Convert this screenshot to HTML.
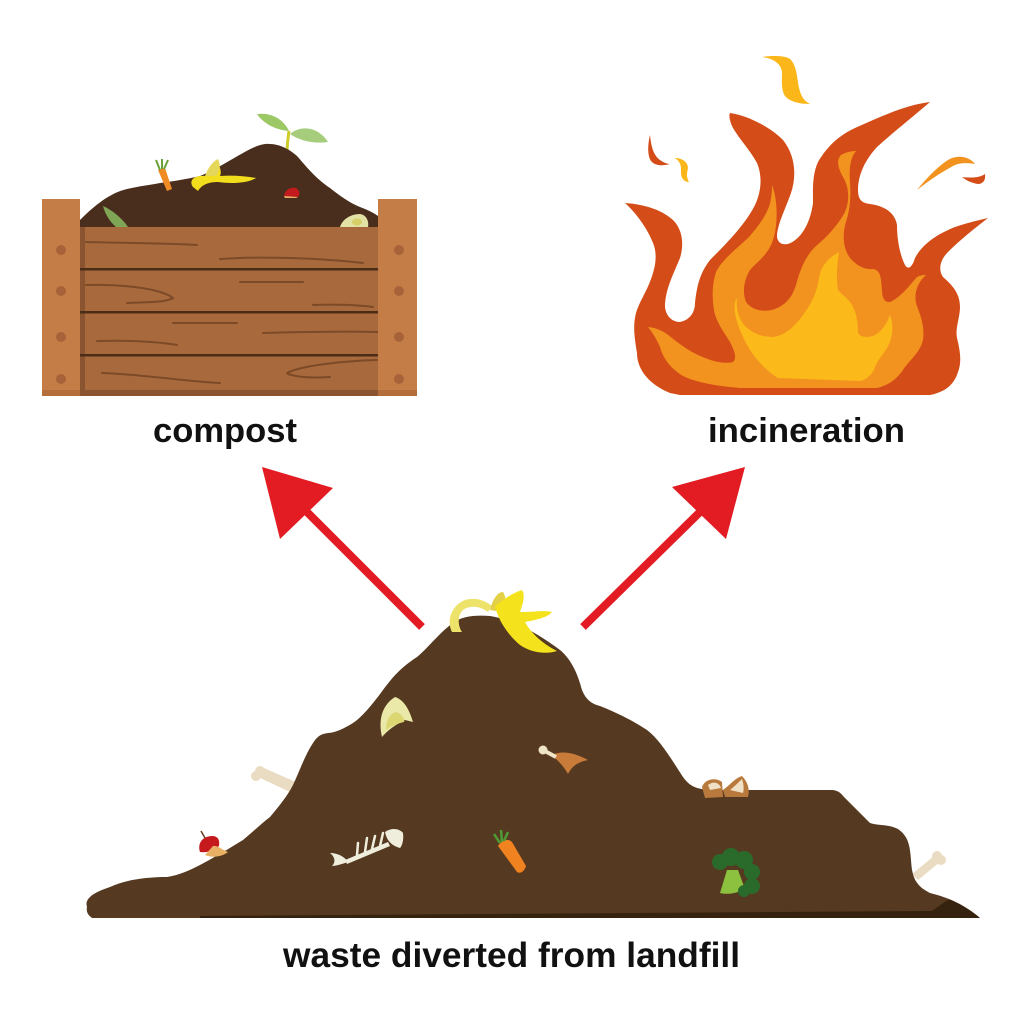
<!DOCTYPE html>
<html>
<head>
<meta charset="utf-8">
<style>
html,body{margin:0;padding:0;background:#fff;}
svg{display:block;}
text{font-family:"Liberation Sans",Arial,sans-serif;font-weight:bold;fill:#111;}
</style>
</head>
<body>
<svg width="1024" height="1024" viewBox="0 0 1024 1024" xmlns="http://www.w3.org/2000/svg">
<rect width="1024" height="1024" fill="#fff"/>

<!-- ========== COMPOST BOX ========== -->
<!-- sprout -->
<path d="M287,153 C287,145 288,138 289,131" stroke="#cfcc2a" stroke-width="3" fill="none"/>
<path d="M289,131 C284,120 272,112 257,114 C262,122 274,130 289,131 Z" fill="#9cc865"/>
<path d="M290,134 C300,125 318,126 328,142 C314,144 300,141 290,134 Z" fill="#a6cd7c"/>
<!-- mound -->
<path d="M80,227 L80,220 C95,205 110,193 127,189 C140,186 150,185 160,183 C175,181 187,179 200,176 C215,170 230,160 243,153 C252,148 258,145 265,144 C280,143 290,150 297,156 C305,165 315,178 330,188 C340,196 350,203 360,207 C368,210 374,213 378,216 L378,227 Z" fill="#4a2e1d"/>
<!-- compost items -->
<path d="M103,206 C112,210 122,218 128,227 L116,227 C110,222 105,214 103,206 Z" fill="#7ea654"/>
<path d="M340,227 C342,220 350,214 360,214 C367,215 369,222 368,227 Z" fill="#e3e2a6"/>
<ellipse cx="357" cy="222" rx="5" ry="3.5" fill="#d5cf66"/>
<path d="M158,170 L165,168 L172,189 L167,191 Z" fill="#f08a24"/>
<path d="M160,170 L156,160 M162,169 L162,159 M164,169 L168,160" stroke="#6aa23a" stroke-width="2"/>
<path d="M193,187 C188,180 195,175 205,176 C210,172 214,165 216,160 C220,166 222,172 220,176 C232,175 245,176 256,178 C248,183 232,184 218,182 C210,182 202,184 198,191 Z" fill="#f2de1c"/>
<path d="M205,176 C208,168 212,162 218,159 C221,164 220,171 216,176 Z" fill="#e5d75a"/>
<path d="M284,196 C285,190 290,187 296,188 C300,190 300,195 298,197 Z" fill="#c21b1e"/>
<path d="M284,196 L298,197 L296,198 L285,198 Z" fill="#e8b065"/>

<!-- middle panel -->
<rect x="80" y="227" width="298" height="169" fill="#a86a3d"/>
<rect x="80" y="227" width="5" height="169" fill="#8a5430"/>
<rect x="80" y="390" width="298" height="6" fill="#8a5430"/>
<!-- plank lines -->
<rect x="80" y="268" width="298" height="2.5" fill="#4a2c17"/>
<rect x="80" y="311" width="298" height="2.5" fill="#4a2c17"/>
<rect x="80" y="354" width="298" height="2.5" fill="#4a2c17"/>
<!-- grain -->
<g stroke="#7d4a27" stroke-width="2" fill="none" stroke-linecap="round">
<path d="M86,242 C120,243 170,243 197,245"/>
<path d="M220,259 C260,256 320,258 363,263"/>
<path d="M86,285 C120,284 160,288 173,298 C165,303 145,302 127,303"/>
<path d="M240,282 L303,282"/>
<path d="M313,305 C335,304 360,305 373,307"/>
<path d="M173,323 L237,323"/>
<path d="M263,333 C300,332 340,331 378,332"/>
<path d="M97,341 C130,340 160,342 177,345"/>
<path d="M102,373 C140,374 190,382 220,383"/>
<path d="M287,373 C300,366 340,361 377,360 M288,374 C300,378 315,378 330,377"/>
</g>
<!-- posts -->
<rect x="42" y="199" width="38" height="197" fill="#c57d47"/>
<rect x="378" y="199" width="39" height="197" fill="#c57d47"/>
<rect x="42" y="390" width="38" height="6" fill="#b46e3c"/>
<rect x="378" y="390" width="39" height="6" fill="#b46e3c"/>
<g fill="#a8623a">
<circle cx="61" cy="250" r="5"/><circle cx="61" cy="291" r="5"/><circle cx="61" cy="337" r="5"/><circle cx="61" cy="379" r="5"/>
<circle cx="399" cy="250" r="5"/><circle cx="399" cy="291" r="5"/><circle cx="399" cy="337" r="5"/><circle cx="399" cy="379" r="5"/>
</g>

<!-- ========== FIRE ========== -->
<path d="M670,393 C650,385 637,370 637,353 C634,335 633,325 636,313 C640,300 648,290 653,273 C657,260 656,250 653,243 C648,230 638,215 625,203 C640,204 660,208 673,220 C683,230 684,245 680,258 C673,275 665,290 665,307 C666,316 672,322 680,322 C690,320 695,312 695,303 C697,285 700,273 710,260 C725,245 745,225 755,205 C762,190 762,175 757,163 C750,150 740,140 733,128 C729,120 729,115 730,113 C745,115 768,125 783,140 C795,155 797,175 791,193 C785,210 777,225 777,237 C778,243 782,245 788,244 C800,240 810,225 813,203 C813,190 812,175 818,162 C828,145 840,135 855,128 C880,117 905,105 930,102 C915,115 890,135 877,147 C865,160 858,175 858,190 C858,200 862,203 870,204 C885,206 895,213 897,225 C897,240 900,255 905,265 C908,270 912,268 915,258 C922,245 935,235 955,227 C970,222 980,220 988,218 C975,228 960,240 948,252 C940,260 938,270 943,277 C952,285 960,293 960,307 C960,318 955,328 957,338 C960,350 962,362 958,372 C954,385 945,392 930,395 L680,395 Z" fill="#d44c17"/>
<path d="M648,327 C658,328 665,332 672,338 C682,346 692,353 705,358 C715,362 725,364 733,362 C737,358 735,352 730,342 C724,332 716,322 714,310 C712,298 712,285 716,272 C722,260 735,250 748,238 C760,225 770,210 771,198 C772,193 772,188 772,185 C778,200 778,225 773,240 C768,255 757,262 750,270 C744,280 742,292 746,302 C752,310 762,312 772,310 C785,306 792,298 796,285 C800,270 805,257 815,247 C827,237 838,225 845,212 C850,200 849,187 843,177 C838,168 836,160 841,155 C846,152 852,151 856,151 C850,158 849,170 850,182 C851,196 850,210 846,222 C842,235 843,248 850,258 C857,266 865,270 873,269 C880,270 881,276 882,290 C882,298 885,303 890,302 C900,298 910,285 917,277 C921,275 924,275 926,275 C918,282 914,292 916,303 C920,315 925,325 923,340 C920,352 912,358 905,367 C898,378 890,385 877,388 L740,388 C715,386 695,382 683,376 C670,368 663,358 660,347 C656,338 652,332 648,327 Z" fill="#f3931f"/>
<path d="M737,298 C736,308 738,318 745,326 C752,333 762,337 772,337 C785,336 795,326 803,315 C812,303 817,292 819,278 C821,266 828,258 839,252 C837,265 836,278 838,290 C842,295 848,298 852,305 C857,313 858,325 858,333 C860,337 866,338 873,336 C882,332 887,323 890,315 C894,325 893,338 887,348 C882,356 876,362 874,370 C870,376 866,380 860,381 L778,378 C768,372 758,362 750,350 C743,338 737,325 735,313 C734,305 735,300 737,298 Z" fill="#fbb91a"/>
<!-- sparks -->
<path d="M762,57 C775,55 788,56 791,60 C797,67 797,78 799,88 C801,96 804,101 810,104 C800,104 790,102 785,96 C781,90 782,80 782,72 C781,63 772,58 762,57 Z" fill="#fbb719"/>
<path d="M650,135 C651,145 653,155 660,160 C664,163 668,164 670,164 C663,166 655,166 651,161 C647,155 648,143 650,135 Z" fill="#d44c17"/>
<path d="M675,158 C682,158 688,162 688,168 C687,173 686,177 689,182 C684,182 681,178 681,173 C681,168 682,163 675,158 Z" fill="#fbb719"/>
<path d="M917,190 C925,180 937,167 948,160 C958,154 970,157 975,164 C970,163 960,162 953,166 C940,173 927,182 917,190 Z" fill="#f3931f"/>
<path d="M962,177 C970,178 980,178 985,174 C986,180 983,184 978,184 C972,183 967,181 962,177 Z" fill="#d44c17"/>

<!-- ========== LABELS ========== -->
<text x="153" y="442" font-size="34" textLength="144" lengthAdjust="spacingAndGlyphs">compost</text>
<text x="708" y="442" font-size="34" textLength="197" lengthAdjust="spacingAndGlyphs">incineration</text>
<text x="283" y="967" font-size="35" textLength="457" lengthAdjust="spacingAndGlyphs">waste diverted from landfill</text>

<!-- ========== ARROWS ========== -->
<line x1="422" y1="627" x2="305" y2="510" stroke="#e31b23" stroke-width="8"/>
<polygon points="262,467 333,488 280,539" fill="#e31b23"/>
<line x1="583" y1="627" x2="701" y2="511" stroke="#e31b23" stroke-width="8"/>
<polygon points="745,467 672,487 726,539" fill="#e31b23"/>

<!-- ========== PILE ========== -->
<!-- bones behind -->
<g fill="#eadcc2">
<path d="M258,777 L290,792 L296,782 L264,768 Z"/>
<circle cx="256" cy="776" r="5"/><circle cx="260" cy="771" r="5"/>
<path d="M918,880 L940,862 L934,856 L912,874 Z"/>
<circle cx="941" cy="860" r="5"/><circle cx="937" cy="856" r="5"/>
</g>
<path d="M87,907 C84,898 95,892 110,887 C125,880 145,877 167,877 C180,875 190,870 200,865 C215,857 230,848 243,840 C255,830 262,823 270,817 C280,805 288,795 293,785 C300,770 305,755 313,743 C317,737 320,734 328,733 C335,733 345,728 353,723 C362,717 372,705 383,690 C392,678 400,668 417,657 C428,648 440,632 453,623 C462,616 475,615 490,616 C515,620 540,635 560,650 C572,660 578,675 582,690 C586,700 592,704 600,706 C615,712 632,720 647,730 C660,740 670,757 683,777 C690,787 698,790 715,790 L833,790 C840,791 842,795 845,798 L870,823 C880,826 888,824 898,829 C908,836 910,845 911,860 C912,875 914,885 930,893 C950,898 965,905 980,918 L92,918 C88,915 86,912 87,907 Z" fill="#553920"/>
<path d="M200,916 L932,911 C942,904 946,900 950,900 C962,905 972,911 980,918 L200,918 Z" fill="#35220f"/>

<!-- banana on top -->
<path d="M452,632 C446,620 452,605 465,600 C475,597 485,600 492,606 L488,612 C480,606 470,605 463,610 C457,616 458,626 462,632 Z" fill="#eee36a"/>
<path d="M490,610 C493,598 498,592 503,592 C507,598 506,606 502,612 Z" fill="#e2d048"/>
<path d="M495,606 C505,598 515,592 522,590 C526,596 522,606 520,612 C535,612 545,610 552,612 C547,618 535,620 525,622 C532,635 545,645 557,651 C545,655 530,652 520,645 C508,635 498,620 495,606 Z" fill="#f4e21c"/>

<!-- avocado wedge -->
<path d="M382,737 C378,720 382,705 395,697 C405,700 410,712 413,722 L405,720 C395,725 388,730 382,737 Z" fill="#ebe9a9"/>
<path d="M386,730 C386,720 390,713 397,712 C403,715 405,720 404,722 C396,724 390,727 386,730 Z" fill="#dcd772"/>
<!-- apple core -->
<path d="M200,852 C197,843 203,836 212,836 C218,836 220,840 219,846 C214,850 208,853 200,852 Z" fill="#c5191d"/>
<path d="M213,846 C218,845 222,850 228,852 C222,857 212,858 205,855 Z" fill="#e8b065"/>
<path d="M205,838 L201,831" stroke="#6a3e20" stroke-width="1.5"/>
<!-- fish bone -->
<g fill="#efeedd">
<path d="M385,832 C392,827 400,829 403,833 C404,840 402,846 400,848 C393,846 387,842 385,832 Z"/>
<path d="M345,860 L388,842 L390,846 L347,864 Z"/>
<path d="M330,853 C338,853 345,857 348,862 C342,864 336,866 332,866 C336,862 335,857 330,853 Z"/>
</g>
<g stroke="#efeedd" stroke-width="2.5" stroke-linecap="round">
<path d="M357,855 L358,843 M365,852 L367,838 M372,849 L375,836 M380,846 L383,833"/>
</g>
<!-- carrot -->
<path d="M498,846 C502,840 508,838 512,842 L526,866 C524,872 520,874 517,872 Z" fill="#f0821f"/>
<path d="M500,843 L494,834 M502,842 L501,830 M504,841 L508,832" stroke="#4f9a34" stroke-width="2.5"/>
<!-- drumstick -->
<path d="M552,755 C562,750 575,753 588,760 C578,762 572,766 568,774 C563,765 557,760 552,755 Z" fill="#c97b3a"/>
<circle cx="543" cy="750" r="4.5" fill="#efe3c8"/><path d="M543,750 L556,757" stroke="#efe3c8" stroke-width="4"/>
<!-- eggshells -->
<path d="M702,787 C705,779 715,777 722,782 L723,797 L705,798 Z" fill="#b9793d"/>
<path d="M723,790 C730,785 735,778 742,776 C748,782 750,790 748,797 L725,797 Z" fill="#b9793d"/>
<path d="M708,785 C713,781 719,782 721,788 L710,790 Z" fill="#efe0c6"/>
<path d="M730,790 C735,786 740,781 742,779 C744,785 744,790 743,793 Z" fill="#efe0c6"/>
<!-- broccoli -->
<path d="M720,893 L727,870 L738,870 L745,889 C738,893 728,895 720,893 Z" fill="#8cc13f"/>
<g fill="#2a6a2b">
<circle cx="720" cy="862" r="8"/><circle cx="731" cy="857" r="9"/><circle cx="744" cy="860" r="9"/><circle cx="752" cy="872" r="8"/><circle cx="752" cy="886" r="8"/><circle cx="744" cy="891" r="6"/>
</g>
</svg>
</body>
</html>
